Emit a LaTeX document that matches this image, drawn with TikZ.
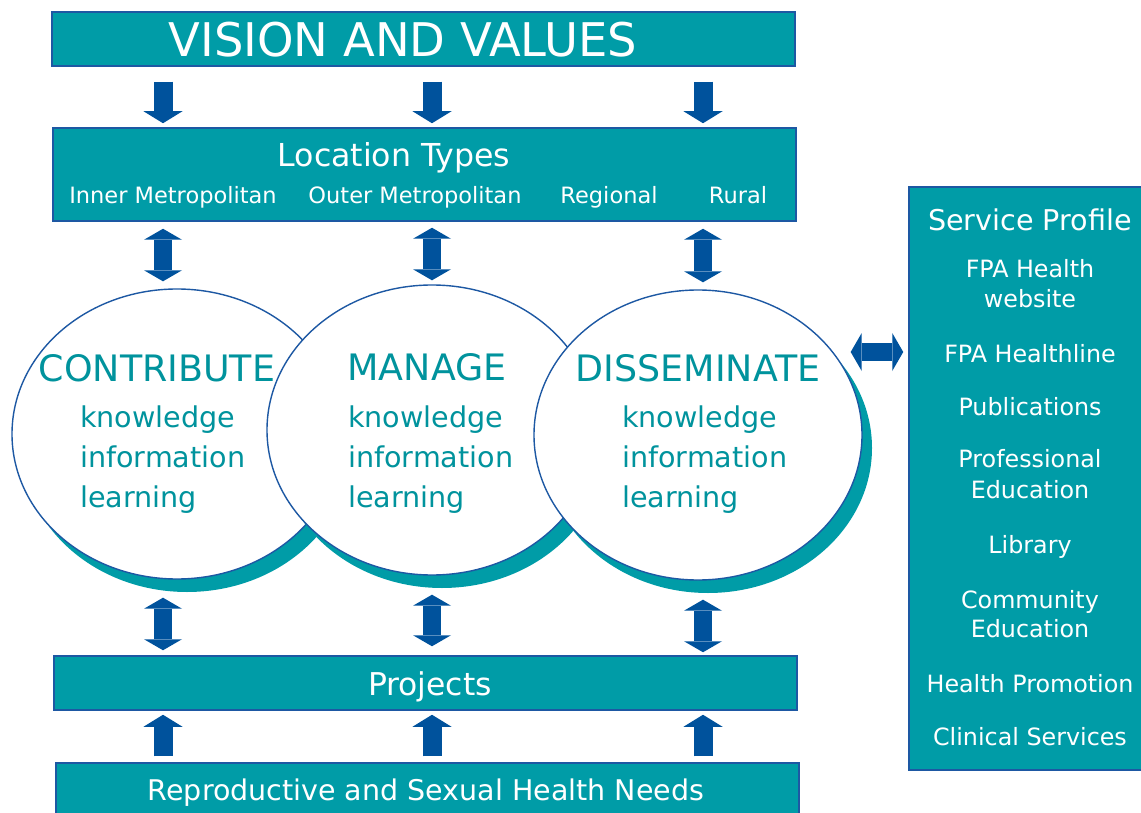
\documentclass[tikz,border=0pt]{standalone}
\usepackage{fontspec}
\setmainfont{DejaVu Sans}
\usetikzlibrary{shapes.geometric, arrows.meta, shadows}
\definecolor{fpaTeal}{HTML}{009CA7}
\definecolor{fpaTealT}{HTML}{00939D}
\definecolor{fpaBlue}{HTML}{00529C}
\definecolor{fpaEdge}{HTML}{1D58A3}
\newcommand{\fsz}[1]{\fontsize{#1}{#1}\selectfont}
\tikzset{
  bar/.style={draw=fpaEdge, line width=1.5pt, fill=fpaTeal, inner sep=0pt,
    minimum width=743pt},
  wtext/.style={text=white, inner sep=0pt, anchor=base},
  bubble/.style={ellipse, draw=fpaEdge, line width=1.4pt, fill=white,
    minimum width=330pt, minimum height=290pt, inner sep=0pt,
    drop shadow={shadow xshift=10pt, shadow yshift=-13pt, fill=fpaTeal, opacity=1}},
  head/.style={text=fpaTealT, inner sep=0pt, anchor=base, font=\fsz{36.4}},
  sub/.style={text=fpaTealT, inner sep=0pt, anchor=base west, font=\fsz{28.6}},
  svcitem/.style={wtext, font=\fsz{23.8}},
  arr/.style={draw=fpaBlue, line width=19pt,
    -{Triangle[length=12pt, width=39pt, line width=0pt]}},
  dblarr/.style={draw=fpaBlue, line width=18pt,
    {Triangle[length=11pt, width=38pt, line width=0pt]}-{Triangle[length=11pt, width=38pt, line width=0pt]}},
}

\begin{document}
\begin{tikzpicture}[x=1pt, y=-1pt]
  \useasboundingbox (0,0) rectangle (1141,813);
  \clip (0,0) rectangle (1141,813);

  % ---- Bars ----------------------------------------------------------------
  \node[bar, minimum height=54pt] (vision) at (423.5,39) {};
  \node[wtext, font=\fsz{46.4}] (vision-t) at (403,57) {VISION AND VALUES};

  \node[bar, minimum height=93pt] (loc) at (424.5,174.5) {};
  \node[wtext, font=\fsz{31.6}] (loc-t) at (394,167) {Location Types};
  \node[wtext, font=\fsz{22.5}] (loc-1) at (173,204) {Inner Metropolitan};
  \node[wtext, font=\fsz{22.5}] (loc-2) at (415,204) {Outer Metropolitan};
  \node[wtext, font=\fsz{22.5}] (loc-3) at (609,204) {Regional};
  \node[wtext, font=\fsz{22.5}] (loc-4) at (738,204) {Rural};

  \node[bar, minimum height=54pt] (proj) at (425.5,683) {};
  \node[wtext, font=\fsz{31.4}] (proj-t) at (430,695) {Projects};

  \node[bar, minimum height=66pt] (needs) at (427.5,796) {};
  \node[wtext, font=\fsz{28.5}] (needs-t) at (426,800) {Reproductive and Sexual Health Needs};

  % ---- Service profile column ------------------------------------------------
  \node[bar, minimum width=240pt, minimum height=583pt] (svc) at (1029,478.5) {};
  \node[wtext, font=\fsz{28.6}] (svc-t) at (1030,231) {Service Profile};
  \foreach \y/\t [count=\i] in {277/FPA Health, 307/website, 362/FPA Healthline,
      415/Publications, 467/Professional, 498/Education, 553/Library,
      608/Community, 637/Education, 692/Health Promotion, 745/Clinical Services}
    \node[svcitem] (svc-\i) at (1030,\y) {\t};

  % ---- The three bubbles -----------------------------------------------------
  \node[bubble] (c1) at (177,434) {};
  \node[head] (c1-t) at (157,381) {CONTRIBUTE};
  \foreach \t [count=\i] in {knowledge,information,learning}
    \node[sub] (c1-\i) at (80,387+40*\i) {\t};

  \node[bubble] (c2) at (432,430) {};
  \node[head] (c2-t) at (427,380) {MANAGE};
  \foreach \t [count=\i] in {knowledge,information,learning}
    \node[sub] (c2-\i) at (348,387+40*\i) {\t};

  \node[bubble, minimum width=328pt] (c3) at (698,435) {};
  \node[head] (c3-t) at (698,381) {DISSEMINATE};
  \foreach \t [count=\i] in {knowledge,information,learning}
    \node[sub] (c3-\i) at (622,387+40*\i) {\t};

  % ---- Arrows ------------------------------------------------------------------
  \coordinate (k1) at (163,0);
  \coordinate (k2) at (432,0);
  \coordinate (k3) at (703,0);
  \coordinate (hrow) at (0,352);

  \draw[arr, shorten <=15pt, shorten >=4pt] (vision.south -| k1) -- (loc.north -| k1);
  \draw[arr, shorten <=15pt, shorten >=4pt] (vision.south -| k2) -- (loc.north -| k2);
  \draw[arr, shorten <=15pt, shorten >=4pt] (vision.south -| k3) -- (loc.north -| k3);

  \draw[dblarr, shorten <=7pt, shorten >=7pt] (loc.south -| k1) -- (c1.north -| k1);
  \draw[dblarr, shorten <=6pt, shorten >=4pt] (loc.south -| k2) -- (c2.north -| k2);
  \draw[dblarr, shorten <=7pt, shorten >=7pt] (loc.south -| k3) -- (c3.north -| k3);

  \draw[dblarr, shorten <=18pt, shorten >=5pt] (c1.south -| k1) -- (proj.north -| k1);
  \draw[dblarr, shorten <=19pt, shorten >=9pt] (c2.south -| k2) -- (proj.north -| k2);
  \draw[dblarr, shorten <=19pt, shorten >=3pt] (c3.south -| k3) -- (proj.north -| k3);

  \draw[arr, shorten <=6pt, shorten >=4pt] (needs.north -| k1) -- (proj.south -| k1);
  \draw[arr, shorten <=6pt, shorten >=4pt] (needs.north -| k2) -- (proj.south -| k2);
  \draw[arr, shorten <=6pt, shorten >=4pt] (needs.north -| k3) -- (proj.south -| k3);

  \draw[dblarr, shorten <=-12pt, shorten >=5pt] (c3.east |- hrow) -- (svc.west |- hrow);

\end{tikzpicture}
\end{document}
